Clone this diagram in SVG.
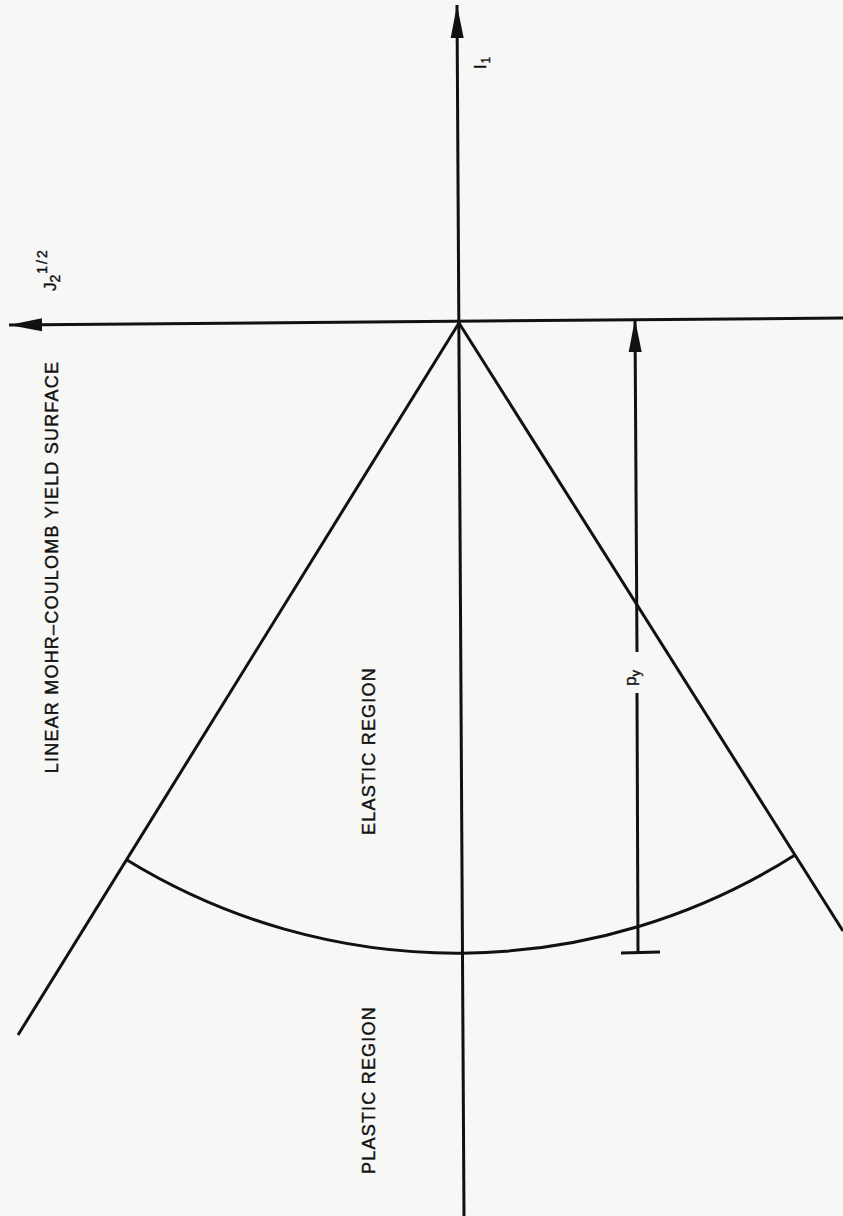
<svg xmlns="http://www.w3.org/2000/svg" width="843" height="1216" viewBox="0 0 843 1216">
<defs>
<style>
.ln{stroke:#111;stroke-width:3;fill:none;stroke-linecap:butt}
.lbl{font-family:"Liberation Sans",Arial,sans-serif;font-size:18px;letter-spacing:1.2px;fill:#111;stroke:#111;stroke-width:0.4}
.sym{font-family:"Liberation Sans",Arial,sans-serif;fill:#111;stroke:#111;stroke-width:0.4}
</style>
<marker id="arr" markerUnits="userSpaceOnUse" viewBox="0 -7 34 14" refX="33" refY="0" markerWidth="34" markerHeight="14" orient="auto-start-reverse">
<path d="M0,-6.5 L33,0 L0,6.5 z" fill="#111"/>
</marker>
</defs>
<rect width="843" height="1216" fill="#f7f7f5"/>
<g id="connectors">
<line id="axis-I1" class="ln" x1="457" y1="5" x2="464" y2="1216" marker-start="url(#arr)"/>
<line id="axis-J2" class="ln" x1="9" y1="325" x2="843" y2="318" marker-start="url(#arr)"/>
<line id="yield-left" class="ln" x1="459" y1="323" x2="18" y2="1035"/>
<line id="yield-right" class="ln" x1="459" y1="323" x2="843" y2="931"/>
<path id="cap" class="ln" stroke-width="2.6" d="M127,860 A631,631 0 0,0 795,855"/>
<line id="py-dim" class="ln" stroke-width="2.6" x1="635" y1="319" x2="637" y2="652" marker-start="url(#arr)"/>
<line id="py-dim2" class="ln" stroke-width="2.6" x1="637" y1="693" x2="638" y2="953"/>
<line id="py-tick" class="ln" x1="621" y1="953" x2="660" y2="952"/>
</g>
<g id="label-I1">
<text class="sym" transform="translate(486,69) rotate(-90)" font-size="16">I<tspan font-size="12" dy="4" dx="1">1</tspan></text>
</g>
<g id="label-J2">
<text class="sym" transform="translate(56,291) rotate(-90)" font-size="17">J<tspan font-size="14" dy="4">2</tspan><tspan font-size="14" dy="-13" dx="1" letter-spacing="2">1/2</tspan></text>
</g>
<g id="label-yield">
<text class="lbl" text-anchor="middle" transform="translate(58,567) rotate(-90)">LINEAR MOHR–COULOMB YIELD SURFACE</text>
</g>
<g id="label-elastic">
<text class="lbl" text-anchor="middle" transform="translate(375,751) rotate(-90)">ELASTIC REGION</text>
</g>
<g id="label-plastic">
<text class="lbl" text-anchor="middle" transform="translate(375,1090) rotate(-90)">PLASTIC REGION</text>
</g>
<g id="label-py">
<text class="sym" transform="translate(636,686) rotate(-90)" font-size="17">p<tspan font-size="13" dy="4">y</tspan></text>
</g>
</svg>
